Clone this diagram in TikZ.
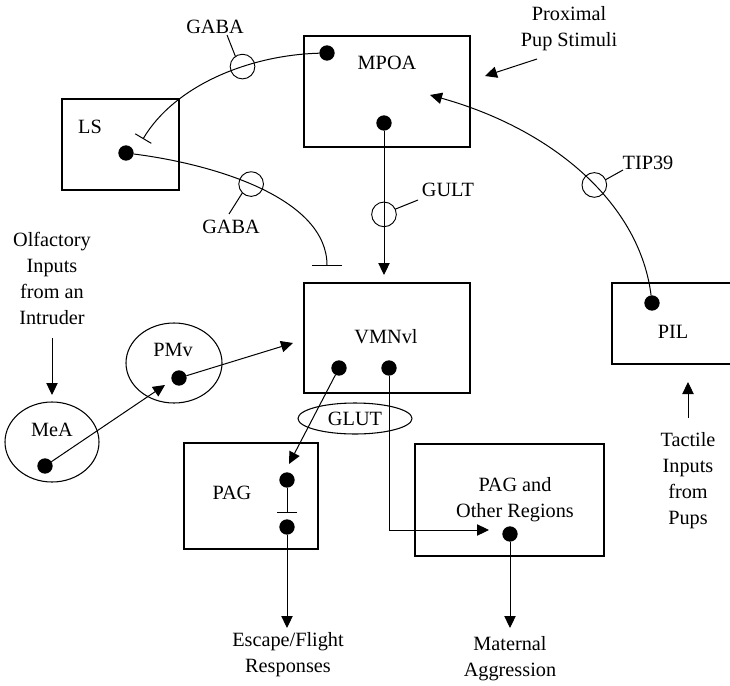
\documentclass[tikz,border=0pt]{standalone}
\usepackage{fontspec}
\setmainfont{Liberation Serif}
\usetikzlibrary{arrows.meta,shapes.geometric}
\begin{document}
\begin{tikzpicture}[x=0.75pt,y=-0.75pt,
  every node/.style={font=\fontsize{15.2}{19.5}\selectfont, inner sep=0pt, outer sep=0pt},
  box/.style={draw, line width=0.8pt, rectangle},
  region/.style={draw, line width=0.8pt, ellipse},
  dot/.style={circle, fill=black, minimum size=11.5pt},
  marker/.style={draw, circle, line width=0.7pt, minimum size=18.5pt, fill=none},
  txt/.style={align=center},
  link/.style={line width=0.75pt},
  arr/.style={link, -{Triangle[length=9pt,width=8.5pt]}},
  inhib/.style={link, -{Bar[width=#1, line width=0.75pt]}}
]
\clip (0,0) rectangle (730,685);

% brain regions
\node[box, minimum width=124.5pt, minimum height=83.25pt] (mpoa) at (387,91.5) {};
\node[box, minimum width=87.75pt, minimum height=68.25pt] (ls) at (120.5,144.5) {};
\node[box, minimum width=124.5pt, minimum height=82.5pt] (vmn) at (387,338) {};
\node[box, minimum width=90pt, minimum height=60.75pt] (pil) at (672,323.5) {};
\node[box, minimum width=100.5pt, minimum height=79.5pt] (pag) at (251,496) {};
\node[box, minimum width=141.75pt, minimum height=84pt] (pago) at (509.5,500) {};
\node[region, minimum width=70.5pt, minimum height=60pt] (mea) at (52,442) {};
\node[region, minimum width=72pt, minimum height=60pt] (pmv) at (174,363) {};
\node[region, minimum width=85.5pt, minimum height=23.25pt] (glut) at (355,418.5) {};

% region labels
\node (mpoaL) at (387,63) {MPOA};
\node (lsL) at (90,127) {LS};
\node (vmnL) at (386,337) {VMNvl};
\node (pilL) at (673,332) {PIL};
\node (pagL) at (232,493) {PAG};
\node[txt] (pagoL) at (515,499.5) {PAG and\\Other Regions};
\node (meaL) at (52,430) {MeA};
\node (pmvL) at (173,350) {PMv};
\node (glutL) at (355,419) {GLUT};

% cell bodies
\node[dot] (dm1) at (327,53) {};
\node[dot] (dm2) at (384,123) {};
\node[dot] (dls) at (126,153) {};
\node[dot] (dvl) at (339,368) {};
\node[dot] (dvr) at (389,368) {};
\node[dot] (dpil) at (652,303) {};
\node[dot] (dmea) at (45,466) {};
\node[dot] (dpmv) at (179,378) {};
\node[dot] (dpag1) at (287,480) {};
\node[dot] (dpag2) at (287,527) {};
\node[dot] (dpago) at (510,534) {};

% free ends
\coordinate (lsIn) at (143,139);
\coordinate (vmBar) at (327,266);
\coordinate (mpoaIn) at (430,95);
\coordinate (vmTop) at (384,275);
\coordinate (vmIn) at (293,343);
\coordinate (pmvIn) at (165,385);
\coordinate (pagIn) at (289,464);
\coordinate (pagBar) at (287,513);
\coordinate (corner) at (389,530);
\coordinate (pagoIn) at (489,530);
\coordinate (escTip) at (287,628);
\coordinate (matTip) at (510,628);

% inputs and outputs
\node[txt] (olf) at (52,278.5) {Olfactory\\Inputs\\from an\\Intruder};
\coordinate (olfA) at (52,338);
\coordinate (olfB) at (52,395);
\node[txt] (prox) at (569,28.5) {Proximal\\Pup Stimuli};
\coordinate (proxA) at (537,59);
\coordinate (proxB) at (485,76);
\node[txt] (tact) at (688,480.5) {Tactile\\Inputs\\from\\Pups};
\coordinate (tactA) at (688,418);
\coordinate (tactB) at (688,382);
\node[txt] (esc) at (288,654.5) {Escape/Flight\\Responses};
\node[txt] (mat) at (510,658.5) {Maternal\\Aggression};

% projections
\draw[inhib=14pt] (dm1) .. controls (250,55) and (175,85) .. node[marker, pos=0.37] (gaba1M) {} (lsIn);
\draw[inhib=23pt] (dls) .. controls (220,165) and (327,200) .. node[marker, pos=0.45] (gaba2M) {} (vmBar);
\draw[arr] (dpil) .. controls (640,205) and (555,130) .. node[marker, pos=0.45] (tipM) {} (mpoaIn);
\draw[arr] (dm2) -- node[marker, pos=0.58] (gultM) {} (vmTop);
\draw[arr] (dmea) -- (pmvIn);
\draw[arr] (dpmv) -- (vmIn);
\draw[arr] (dvl) -- (pagIn);
\draw[inhib=15pt] (dpag1) -- (pagBar);
\draw[arr] (dpag2) -- (escTip);
\draw[arr] (dvr) -- (corner) -- (pagoIn);
\draw[arr] (dpago) -- (matTip);
\draw[arr] (olfA) -- (olfB);
\draw[arr] (proxA) -- (proxB);
\draw[arr] (tactA) -- (tactB);

% transmitter labels
\node (gaba1) at (215,27) {GABA};
\node (gaba2) at (231,227) {GABA};
\node (gult) at (448,190) {GULT};
\node (tip) at (648,163) {TIP39};
\coordinate (g1a) at (227,35);
\coordinate (g2a) at (229,214);
\coordinate (gua) at (418,200);
\coordinate (tia) at (623,170);
\draw[link] (g1a) -- (gaba1M.125);
\draw[link] (g2a) -- (gaba2M.225);
\draw[link] (gua) -- (gultM.25);
\draw[link] (tia) -- (tipM.25);
\end{tikzpicture}
\end{document}
